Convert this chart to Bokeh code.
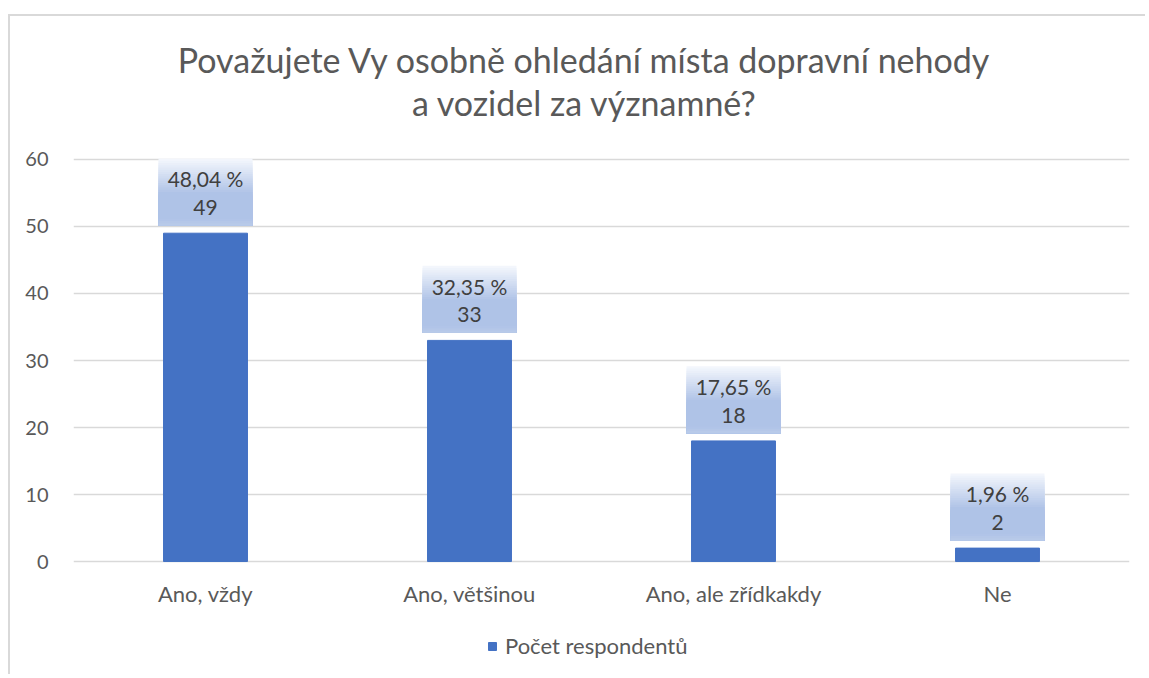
from bokeh.plotting import figure
from bokeh.models import FactorRange, Range1d, Label, Legend, LegendItem, FixedTicker
from bokeh.core.properties import value
from bokeh.embed import file_html
from bokeh.resources import INLINE

# ---- data ----
categories = ["Ano, vždy", "Ano, většinou", "Ano, ale zřídkakdy", "Ne"]
counts = [49, 33, 18, 2]
percent_labels = ["48,04 %", "32,35 %", "17,65 %", "1,96 %"]
count_labels = ["49", "33", "18", "2"]
title_lines = ["Považujete Vy osobně ohledání místa dopravní nehody",
               "a vozidel za významné?"]
series_name = "Počet respondentů"
y_ticks = [0, 10, 20, 30, 40, 50, 60]

FONT = "Lato"
TXT = "#595959"
BAR = "#4472C4"
GRID = "#D9D9D9"

# frame spans the whole chart height so title, category labels and legend
# can sit inside it; value axis ticks stay at 0..60
Y_TOP = 81.34
Y_BOTTOM = -17.16

p = figure(x_range=FactorRange(*categories), y_range=Range1d(Y_BOTTOM, Y_TOP),
           width=1137, height=660, output_backend="svg", toolbar_location=None,
           min_border_left=63, min_border_right=18, min_border_top=0,
           min_border_bottom=0)
p.styles = {"border-top": "2px solid #D9D9D9", "border-left": "2px solid #D9D9D9",
            "margin-top": "14px", "margin-left": "8px"}
p.outline_line_color = None
p.background_fill_color = "white"
p.border_fill_color = "white"

bars = p.vbar(x=categories, top=counts, width=0.318, color=BAR)

# data label boxes with a vertical gradient (drawn as overlapping strips)
def lerp(c1, c2, t):
    a = [int(c1[i:i + 2], 16) for i in (1, 3, 5)]
    b = [int(c2[i:i + 2], 16) for i in (1, 3, 5)]
    return "#%02x%02x%02x" % tuple(round(a[j] + (b[j] - a[j]) * t) for j in range(3))

N = 30
box_h = 10.0
gap = 1.15
xs, bottoms, tops, cols = [], [], [], []
for k in range(N):
    t = k / N  # 0 = top, 1 = bottom
    if t < 0.5:
        c = lerp("#F3F6FC", "#AFC3E7", t / 0.5)
    elif t < 0.88:
        c = "#AFC3E7"
    else:
        c = lerp("#AFC3E7", "#BCCCEA", (t - 0.88) / 0.12)
    for cat, v in zip(categories, counts):
        xs.append(cat)
        tops.append(v + gap + box_h * (1 - t))
        bottoms.append(v + gap)
        cols.append(c)
p.vbar(x=xs, top=tops, bottom=bottoms, width=0.356, color=cols, line_color=None)

p.text(x=categories, y=[v + 8.1 for v in counts], text=percent_labels,
       text_align="center", text_baseline="middle", text_font=value(FONT),
       text_font_size="21px", text_color="#404040")
p.text(x=categories, y=[v + 3.85 for v in counts], text=count_labels,
       text_align="center", text_baseline="middle", text_font=value(FONT),
       text_font_size="21px", text_color="#404040")

# category labels under the bars
p.text(x=categories, y=[-4.78] * len(categories), text=categories,
       text_align="center", text_baseline="middle", text_font=value(FONT),
       text_font_size="22px", text_color=TXT)

# title
for txt, yy in zip(title_lines, [74.93, 68.5]):
    p.add_layout(Label(x=1.936, y=yy, text=txt, text_align="center",
                       text_baseline="middle", text_font=FONT,
                       text_font_size="34px", text_color=TXT))

# axes
p.yaxis.ticker = FixedTicker(ticks=y_ticks)
p.yaxis.axis_line_color = None
p.yaxis.major_tick_line_color = None
p.yaxis.minor_tick_line_color = None
p.yaxis.major_label_standoff = 19
p.yaxis.major_label_text_font = FONT
p.yaxis.major_label_text_font_size = "20px"
p.yaxis.major_label_text_color = TXT

p.xaxis.visible = False

p.xgrid.grid_line_color = None
p.ygrid.grid_line_color = GRID
p.ygrid.grid_line_width = 1.5

legend = Legend(items=[LegendItem(label=series_name, renderers=[bars])],
                location=(414, 17), orientation="horizontal",
                label_text_font=FONT, label_text_font_size="22px",
                label_text_color=TXT, glyph_width=10, glyph_height=10,
                border_line_color=None, background_fill_alpha=0,
                margin=0, padding=0, label_standoff=8)
p.add_layout(legend)

open("out.html", "w").write(file_html(p, INLINE))
